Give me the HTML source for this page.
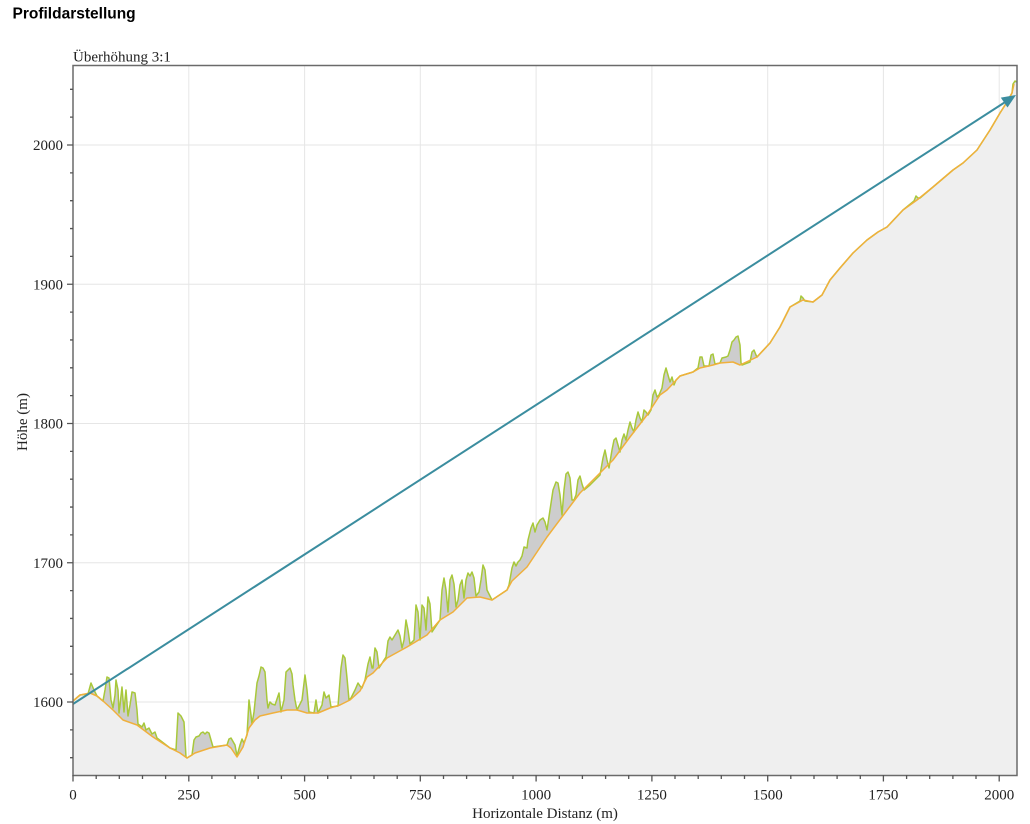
<!DOCTYPE html>
<html><head><meta charset="utf-8"><style>
html,body{margin:0;padding:0;background:#fff;width:1030px;height:824px;overflow:hidden}
svg{display:block}
.s{font-family:"Liberation Serif",serif;font-size:15px;fill:#222}
</style></head><body>
<svg width="1030" height="824" viewBox="0 0 1030 824" xmlns="http://www.w3.org/2000/svg">
<text x="12.5" y="18.5" style="font-family:'Liberation Sans',sans-serif;font-weight:bold;font-size:15.5px;fill:#000">Profildarstellung</text>
<text class="s" x="73" y="61.5">Überhöhung 3:1</text>
<!-- grid -->
<g stroke="#e6e6e6" stroke-width="1">
<path d="M188.8,65V775M304.6,65V775M420.3,65V775M536.1,65V775M651.9,65V775M767.7,65V775M883.4,65V775M999.2,65V775"/>
<path d="M73,702H1017M73,562.75H1017M73,423.5H1017M73,284.25H1017M73,145H1017"/>
</g>
<!-- vegetation fill -->
<polygon fill="#cdcdcd" points="73,701 80,695 88,694 91,683 94,690 97,696 103,701 105,690 107,677 109,678 111,700 113,708 115,695 116,680 118,690 119,713 120,705 122,687 124,712 125,700 126,690 128,716 130,705 132,692 135,693 137,710 138,724 142,727 144,723 146,730 149,728 152,734 155,732 157,738 170,748 176,750 178,713 181,716 184,722 186,757 187,758 192,755 194,740 196,737 199,736 201,733 203,732 205,734 207,732 209,733 211,740 213,747 227,745 229,739 231,738 235,745 237,756 240,745 242,739 244,743 247,735 249,700 251,715 252,724 254,712 257,683 259,676 261,667 263,668 265,672 267,700 268,708 270,702 272,704 275,705 279,693 281,712 284,700 286,672 290,668 292,674 293,685 295,700 297,710 302,700 305,675 307,690 309,712 314,713 316,700 318,713 322,705 324,692 326,698 329,695 331,707 338,706 341,668 343,655 345,658 347,678 349,700 351,698 355,690 358,683 360,686 362,688 365,680 368,664 370,657 372,668 373,668 375,648 377,652 379,668 381,665 384,660 386,657 388,641 390,637 392,640 395,635 398,630 400,636 402,648 404,640 406,620 408,630 410,644 414,640 416,605 418,612 420,640 422,605 424,608 426,630 428,597 430,604 432,632 440,620 442,590 444,578 446,590 448,612 450,580 452,575 454,584 456,607 458,600 460,585 462,580 464,598 466,580 468,573 470,576 472,572 474,578 476,596 479,592 481,580 483,565 485,570 487,590 489,594 492,600 507,590 509,585 512,568 514,562 516,566 518,562 520,560 522,556 524,547 527,548 528,540 531,528 533,523 535,532 537,525 540,520 543,518 545,522 547,530 550,510 553,490 556,482 558,483 560,495 562,515 564,490 566,474 568,472 570,478 572,500 574,500 576,495 578,480 580,476 582,484 584,490 590,485 600,475 603,458 605,450 607,460 609,468 612,450 614,440 616,438 618,445 620,452 622,440 624,434 626,440 628,430 630,422 632,428 634,432 636,420 638,412 640,418 642,422 644,410 646,412 648,415 651,410 653,395 655,390 657,397 659,395 662,388 664,375 666,368 668,375 670,382 672,377 674,385 676,380 680,376 693,372 698,368 700,357 702,357 704,366 709,366 711,355 713,354 715,364 720,363 722,358 726,357 728,356 730,350 732,342 734,340 736,337 738,336 740,345 741,363 742,365 750,362 752,352 754,350 756,355 757,357 770,343 780,327 790,307 800,301 801,296 803,298 805,301 813,302 822,295 830,280 840,268 853,253 867,240 878,232 887,227 903,210 914,201 916,196 918,198 920,198 933,187 953,170 963,163 977,150 990,130 1000,113 1007,102 1012,93 1013,84 1015,81 1017,82 1017,775 73,775"/>
<!-- ground fill -->
<polygon fill="#efefef" points="73,701 80,695 90,693 97,696 103,701 113,710 123,720 137,725 153,737 170,748 180,753 187,758 195,753 210,748 227,745 231,748 237,757 243,747 249,728 255,720 260,716 273,713 287,710 297,710 307,713 318,713 330,708 340,705 350,700 360,691 367,677 373,673 387,658 407,647 427,635 440,620 453,612 467,598 480,597 492,600 507,590 512,581 527,567 547,537 580,493 613,460 630,437 647,415 660,395 667,390 680,376 693,372 700,368 713,365 720,363 733,362 740,365 757,357 770,343 780,327 790,307 803,300 813,302 822,295 830,280 840,268 853,253 867,240 878,232 887,227 903,210 917,200 933,187 953,170 963,163 977,150 990,130 1000,113 1007,102 1012,93 1014,84 1017,82 1017,775 73,775"/>
<!-- vegetation line -->
<polyline fill="none" stroke="#a8c83a" stroke-width="1.5" stroke-linejoin="round" points="73,701 80,695 88,694 91,683 94,690 97,696 103,701 105,690 107,677 109,678 111,700 113,708 115,695 116,680 118,690 119,713 120,705 122,687 124,712 125,700 126,690 128,716 130,705 132,692 135,693 137,710 138,724 142,727 144,723 146,730 149,728 152,734 155,732 157,738 170,748 176,750 178,713 181,716 184,722 186,757 187,758 192,755 194,740 196,737 199,736 201,733 203,732 205,734 207,732 209,733 211,740 213,747 227,745 229,739 231,738 235,745 237,756 240,745 242,739 244,743 247,735 249,700 251,715 252,724 254,712 257,683 259,676 261,667 263,668 265,672 267,700 268,708 270,702 272,704 275,705 279,693 281,712 284,700 286,672 290,668 292,674 293,685 295,700 297,710 302,700 305,675 307,690 309,712 314,713 316,700 318,713 322,705 324,692 326,698 329,695 331,707 338,706 341,668 343,655 345,658 347,678 349,700 351,698 355,690 358,683 360,686 362,688 365,680 368,664 370,657 372,668 373,668 375,648 377,652 379,668 381,665 384,660 386,657 388,641 390,637 392,640 395,635 398,630 400,636 402,648 404,640 406,620 408,630 410,644 414,640 416,605 418,612 420,640 422,605 424,608 426,630 428,597 430,604 432,632 440,620 442,590 444,578 446,590 448,612 450,580 452,575 454,584 456,607 458,600 460,585 462,580 464,598 466,580 468,573 470,576 472,572 474,578 476,596 479,592 481,580 483,565 485,570 487,590 489,594 492,600 507,590 509,585 512,568 514,562 516,566 518,562 520,560 522,556 524,547 527,548 528,540 531,528 533,523 535,532 537,525 540,520 543,518 545,522 547,530 550,510 553,490 556,482 558,483 560,495 562,515 564,490 566,474 568,472 570,478 572,500 574,500 576,495 578,480 580,476 582,484 584,490 590,485 600,475 603,458 605,450 607,460 609,468 612,450 614,440 616,438 618,445 620,452 622,440 624,434 626,440 628,430 630,422 632,428 634,432 636,420 638,412 640,418 642,422 644,410 646,412 648,415 651,410 653,395 655,390 657,397 659,395 662,388 664,375 666,368 668,375 670,382 672,377 674,385 676,380 680,376 693,372 698,368 700,357 702,357 704,366 709,366 711,355 713,354 715,364 720,363 722,358 726,357 728,356 730,350 732,342 734,340 736,337 738,336 740,345 741,363 742,365 750,362 752,352 754,350 756,355 757,357 770,343 780,327 790,307 800,301 801,296 803,298 805,301 813,302 822,295 830,280 840,268 853,253 867,240 878,232 887,227 903,210 914,201 916,196 918,198 920,198 933,187 953,170 963,163 977,150 990,130 1000,113 1007,102 1012,93 1013,84 1015,81 1017,82"/>
<!-- ground line -->
<polyline fill="none" stroke="#f0b03c" stroke-width="1.5" stroke-linejoin="round" points="73,701 80,695 90,693 97,696 103,701 113,710 123,720 137,725 153,737 170,748 180,753 187,758 195,753 210,748 227,745 231,748 237,757 243,747 249,728 255,720 260,716 273,713 287,710 297,710 307,713 318,713 330,708 340,705 350,700 360,691 367,677 373,673 387,658 407,647 427,635 440,620 453,612 467,598 480,597 492,600 507,590 512,581 527,567 547,537 580,493 613,460 630,437 647,415 660,395 667,390 680,376 693,372 700,368 713,365 720,363 733,362 740,365 757,357 770,343 780,327 790,307 803,300 813,302 822,295 830,280 840,268 853,253 867,240 878,232 887,227 903,210 917,200 933,187 953,170 963,163 977,150 990,130 1000,113 1007,102 1012,93 1014,84"/>
<!-- arrow -->
<line x1="73" y1="704" x2="1004.5" y2="102.5" stroke="#3b8d9f" stroke-width="2"/>
<polygon fill="#3b8d9f" points="1016,95 1007.5,107.5 1000.8,97.6"/>
<!-- frame -->
<rect x="73" y="65.5" width="944" height="710" fill="none" stroke="#6a6a6a" stroke-width="1.5"/>
<!-- ticks -->
<g stroke="#555" stroke-width="1.3">
<path d="M67,702H73M67,562.75H73M67,423.5H73M67,284.25H73M67,145H73"/>
<path d="M70,757.7H73M70,729.85H73M70,674.15H73M70,646.3H73M70,618.45H73M70,590.6H73M70,534.9H73M70,507.05H73M70,479.2H73M70,451.35H73M70,395.65H73M70,367.8H73M70,339.95H73M70,312.1H73M70,256.4H73M70,228.55H73M70,200.7H73M70,172.85H73M70,117.15H73M70,89.3H73"/>
<path d="M73,775V781.5M188.8,775V781.5M304.6,775V781.5M420.3,775V781.5M536.1,775V781.5M651.9,775V781.5M767.7,775V781.5M883.4,775V781.5M999.2,775V781.5"/>
<path d="M96.2,775V779M119.3,775V779M142.5,775V779M165.6,775V779M211.9,775V779M235.1,775V779M258.2,775V779M281.4,775V779M327.7,775V779M350.9,775V779M374,775V779M397.2,775V779M443.5,775V779M466.6,775V779M489.8,775V779M513,775V779M559.3,775V779M582.4,775V779M605.6,775V779M628.7,775V779M675,775V779M698.2,775V779M721.3,775V779M744.5,775V779M790.8,775V779M814,775V779M837.1,775V779M860.3,775V779M906.6,775V779M929.7,775V779M952.9,775V779M976,775V779"/>
</g>
<!-- y labels -->
<g class="s" text-anchor="end">
<text class="s" x="63" y="707">1600</text>
<text class="s" x="63" y="567.75">1700</text>
<text class="s" x="63" y="428.5">1800</text>
<text class="s" x="63" y="289.25">1900</text>
<text class="s" x="63" y="150">2000</text>
</g>
<g text-anchor="middle">
<text class="s" x="73" y="799.5">0</text>
<text class="s" x="188.8" y="799.5">250</text>
<text class="s" x="304.6" y="799.5">500</text>
<text class="s" x="420.3" y="799.5">750</text>
<text class="s" x="536.1" y="799.5">1000</text>
<text class="s" x="651.9" y="799.5">1250</text>
<text class="s" x="767.7" y="799.5">1500</text>
<text class="s" x="883.4" y="799.5">1750</text>
<text class="s" x="999.2" y="799.5">2000</text>
<text class="s" x="545" y="818">Horizontale Distanz (m)</text>
<text class="s" x="0" y="0" transform="translate(27,422) rotate(-90)">Höhe (m)</text>
</g>
</svg>
</body></html>
